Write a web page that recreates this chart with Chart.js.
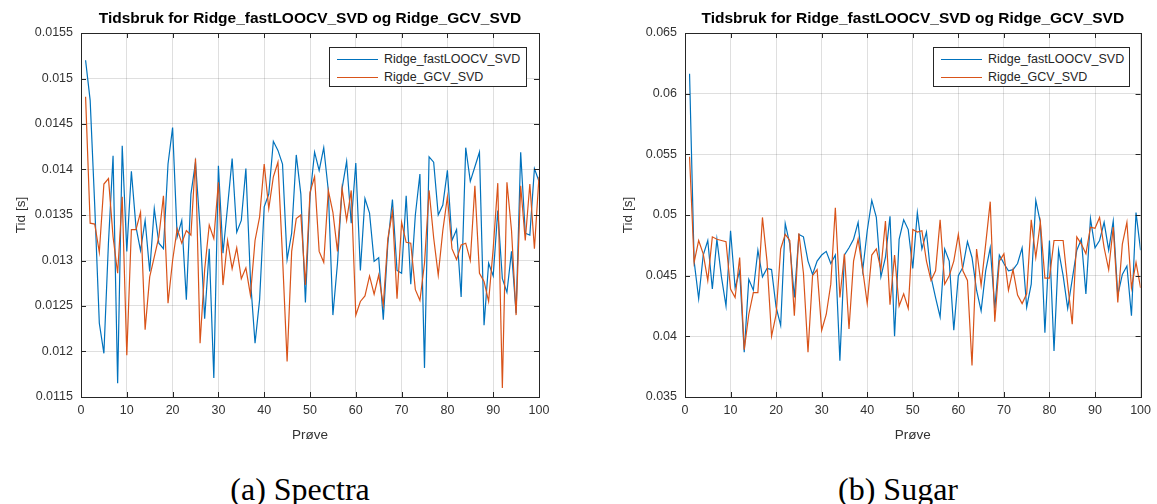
<!DOCTYPE html>
<html>
<head>
<meta charset="utf-8">
<script src="https://cdn.jsdelivr.net/npm/chart.js@4/dist/chart.umd.min.js"></script>
<style>
  body { margin: 0; background: #fff; }
  #page { position: relative; width: 1157px; height: 504px; overflow: hidden; }
  .box { position: absolute; top: 0; height: 455px; }
  .legend { position: absolute; box-sizing: border-box; border: 1px solid #262626; background: #fff;
            font: 12.5px "Liberation Sans", Arial, sans-serif; color: #262626; padding-top: 3px; }
  .legend div { height: 17.5px; line-height: 17.5px; white-space: nowrap; }
  .legend span { display: inline-block; width: 41px; height: 0; vertical-align: middle; margin: 0 6px 0 7px; }
  .caption { position: absolute; top: 471px; line-height: 32px; text-align: center;
             font: 32px "Liberation Serif", "Times New Roman", serif; color: #000; }
</style>
</head>
<body>
<div id="page">
  <div class="box" style="left:0; width:560px;"><canvas id="spectraChart"></canvas></div>
  <div class="box" style="left:590px; width:567px;"><canvas id="sugarChart"></canvas></div>
  <div class="legend" id="spectraLegend" style="left:329px; top:47px; width:198px; height:40px;"></div>
  <div class="legend" id="sugarLegend" style="left:933px; top:47px; width:197px; height:40px;"></div>
  <div class="caption" style="left:0; width:600px;">(a) Spectra</div>
  <div class="caption" style="left:648px; width:500px;">(b) Sugar</div>
</div>
<script>
// sample number on the x axis
const samples = Array.from({ length: 100 }, (_, i) => i + 1);

const titleText = "Tidsbruk for Ridge_fastLOOCV_SVD og Ridge_GCV_SVD";
const seriesNames = ["Ridge_fastLOOCV_SVD", "Rigde_GCV_SVD"];
const xTicks = [0, 10, 20, 30, 40, 50, 60, 70, 80, 90, 100];
const spectraYTicks = [0.0115, 0.012, 0.0125, 0.013, 0.0135, 0.014, 0.0145, 0.015, 0.0155];
const sugarYTicks = [0.035, 0.04, 0.045, 0.05, 0.055, 0.06, 0.065];

// (a) Spectra, time in seconds
const spectraFast = [
  0.01520, 0.01476, 0.01360, 0.01231, 0.01198, 0.01320, 0.01415, 0.01165, 0.01426, 0.01310,
  0.01398, 0.01337, 0.01311, 0.01344, 0.01288, 0.01357, 0.01319, 0.01313, 0.01406, 0.01446,
  0.01326, 0.01344, 0.01257, 0.01373, 0.01408, 0.01335, 0.01236, 0.01313, 0.01171, 0.01404,
  0.01308, 0.01359, 0.01412, 0.01331, 0.01344, 0.01401, 0.01279, 0.01209, 0.01257, 0.01359,
  0.01373, 0.01431, 0.01421, 0.01406, 0.01301, 0.01330, 0.01416, 0.01373, 0.01254, 0.01370,
  0.01419, 0.01399, 0.01424, 0.01377, 0.01240, 0.01297, 0.01379, 0.01409, 0.01341, 0.01407,
  0.01289, 0.01368, 0.01352, 0.01299, 0.01303, 0.01235, 0.01319, 0.01367, 0.01289, 0.01286,
  0.01371, 0.01274, 0.01350, 0.01395, 0.01182, 0.01414, 0.01408, 0.01350, 0.01361, 0.01399,
  0.01322, 0.01334, 0.01260, 0.01424, 0.01387, 0.01403, 0.01419, 0.01229, 0.01297, 0.01283,
  0.01355, 0.01280, 0.01265, 0.01310, 0.01242, 0.01419, 0.01330, 0.01328, 0.01401, 0.01387
];
const spectraGcv = [
  0.01480, 0.01341, 0.01340, 0.01309, 0.01384, 0.01390, 0.01326, 0.01286, 0.01370, 0.01196,
  0.01334, 0.01334, 0.01353, 0.01224, 0.01282, 0.01304, 0.01326, 0.01371, 0.01253, 0.01300,
  0.01335, 0.01319, 0.01333, 0.01328, 0.01412, 0.01209, 0.01290, 0.01339, 0.01324, 0.01386,
  0.01273, 0.01322, 0.01291, 0.01314, 0.01280, 0.01292, 0.01262, 0.01322, 0.01348, 0.01406,
  0.01357, 0.01392, 0.01408, 0.01304, 0.01189, 0.01310, 0.01346, 0.01350, 0.01273, 0.01375,
  0.01392, 0.01310, 0.01298, 0.01377, 0.01353, 0.01310, 0.01379, 0.01344, 0.01377, 0.01240,
  0.01255, 0.01261, 0.01283, 0.01263, 0.01284, 0.01251, 0.01324, 0.01354, 0.01258, 0.01342,
  0.01320, 0.01319, 0.01268, 0.01256, 0.01297, 0.01377, 0.01325, 0.01284, 0.01333, 0.01370,
  0.01313, 0.01301, 0.01317, 0.01319, 0.01300, 0.01382, 0.01286, 0.01277, 0.01255, 0.01313,
  0.01385, 0.01160, 0.01386, 0.01333, 0.01240, 0.01382, 0.01322, 0.01384, 0.01313, 0.01392
];

// (b) Sugar, time in seconds
const sugarFast = [
  0.06165, 0.0462, 0.0431, 0.0467, 0.0479, 0.0439, 0.0480, 0.0449, 0.0425, 0.0487,
  0.0440, 0.0454, 0.0387, 0.0447, 0.0438, 0.0471, 0.0449, 0.0456, 0.0455, 0.0424,
  0.0409, 0.0493, 0.0476, 0.0432, 0.0484, 0.0482, 0.0462, 0.0451, 0.0462, 0.0467,
  0.0470, 0.0460, 0.0467, 0.0380, 0.0467, 0.0473, 0.0480, 0.0494, 0.0454, 0.0487,
  0.0512, 0.0498, 0.0449, 0.0465, 0.0499, 0.0400, 0.0480, 0.0496, 0.0488, 0.0456,
  0.0502, 0.0472, 0.0486, 0.0449, 0.0432, 0.0416, 0.0472, 0.0462, 0.0405, 0.0450,
  0.0457, 0.0478, 0.0465, 0.0438, 0.0421, 0.0454, 0.0473, 0.0423, 0.0467, 0.0460,
  0.0454, 0.0455, 0.0460, 0.0473, 0.0424, 0.0443, 0.0512, 0.0494, 0.0403, 0.0479,
  0.0388, 0.0471, 0.0450, 0.0423, 0.0447, 0.0471, 0.0480, 0.0435, 0.0497, 0.0473,
  0.0479, 0.0494, 0.0471, 0.0495, 0.0434, 0.0451, 0.0458, 0.0417, 0.0502, 0.0471
];
const sugarGcv = [
  0.0548, 0.0461, 0.0479, 0.0468, 0.0446, 0.0482, 0.0480, 0.0479, 0.0478, 0.0439,
  0.0432, 0.0465, 0.0389, 0.0418, 0.0436, 0.0436, 0.0498, 0.0462, 0.0400, 0.0418,
  0.0472, 0.0484, 0.0479, 0.0417, 0.0485, 0.0452, 0.0387, 0.0450, 0.0455, 0.0405,
  0.0418, 0.0443, 0.0506, 0.0432, 0.0468, 0.0406, 0.0462, 0.0480, 0.0455, 0.0427,
  0.0467, 0.0472, 0.0455, 0.0495, 0.0426, 0.0467, 0.0425, 0.0435, 0.0423, 0.0488,
  0.0486, 0.0487, 0.0462, 0.0446, 0.0454, 0.0496, 0.0443, 0.0450, 0.0462, 0.0484,
  0.0454, 0.0446, 0.0376, 0.0472, 0.0442, 0.0476, 0.0511, 0.0412, 0.0462, 0.0468,
  0.0438, 0.0455, 0.0434, 0.0427, 0.0435, 0.0496, 0.0465, 0.0494, 0.0448, 0.0448,
  0.0479, 0.0479, 0.0479, 0.0443, 0.0410, 0.0482, 0.0476, 0.0468, 0.0490, 0.0489,
  0.0498, 0.0473, 0.0455, 0.0490, 0.0428, 0.0476, 0.0494, 0.0440, 0.0461, 0.0440
];

const blue = "#0072BD";
const orange = "#D95319";
const axisColor = "#262626";
const gridColor = "rgba(38,38,38,0.15)";
const fontFamily = '"Liberation Sans", Arial, Helvetica, sans-serif';

// box round the axes with small inward ticks, like matlab
const boxPlugin = {
  id: "box",
  afterDraw(chart) {
    const { ctx, chartArea: a, scales } = chart;
    ctx.save();
    ctx.strokeStyle = axisColor;
    ctx.lineWidth = 1;
    ctx.strokeRect(Math.round(a.left) + 0.5, Math.round(a.top) + 0.5,
                   Math.round(a.right - a.left), Math.round(a.bottom - a.top));
    ctx.beginPath();
    scales.x.ticks.forEach(t => {
      const px = Math.round(scales.x.getPixelForValue(t.value)) + 0.5;
      ctx.moveTo(px, a.bottom); ctx.lineTo(px, a.bottom - 5);
      ctx.moveTo(px, a.top); ctx.lineTo(px, a.top + 5);
    });
    scales.y.ticks.forEach(t => {
      const py = Math.round(scales.y.getPixelForValue(t.value)) + 0.5;
      ctx.moveTo(a.left, py); ctx.lineTo(a.left + 5, py);
      ctx.moveTo(a.right, py); ctx.lineTo(a.right - 5, py);
    });
    ctx.stroke();
    ctx.restore();
  }
};

function toPoints(values) {
  return values.map((v, i) => ({ x: samples[i], y: v }));
}

function makeChart(id, legendId, fast, gcv, yTicks, decimals, yAxisWidth, yTitlePad, rightPad) {
  const chart = new Chart(document.getElementById(id), {
    type: "line",
    data: {
      datasets: [
        { label: seriesNames[0], data: toPoints(fast), borderColor: blue, borderWidth: 1.2, order: 1 },
        { label: seriesNames[1], data: toPoints(gcv), borderColor: orange, borderWidth: 1.2, order: 0 }
      ]
    },
    options: {
      responsive: true,
      maintainAspectRatio: false,
      animation: false,
      layout: { padding: { left: 0, right: rightPad, top: 0, bottom: 0 } },
      elements: { point: { radius: 0 }, line: { tension: 0 } },
      plugins: {
        legend: { display: false },
        tooltip: { enabled: false },
        title: {
          display: true,
          text: titleText,
          fullSize: false,
          color: "#000",
          font: { family: fontFamily, size: 15.5, weight: "bold" },
          padding: { top: 9, bottom: 5.4 }
        }
      },
      scales: {
        x: {
          type: "linear",
          min: xTicks[0],
          max: xTicks[xTicks.length - 1],
          afterBuildTicks: s => { s.ticks = xTicks.map(v => ({ value: v })); },
          afterFit: s => { s.height = 58; },
          grid: { color: gridColor, drawTicks: false },
          border: { color: axisColor },
          ticks: { color: "#333", padding: 6, font: { family: fontFamily, size: 12.5 } },
          title: { display: true, text: "Prøve", color: "#333", font: { family: fontFamily, size: 13.5 },
                   padding: { top: 0, bottom: 12 } }
        },
        y: {
          min: yTicks[0],
          max: yTicks[yTicks.length - 1],
          afterBuildTicks: s => { s.ticks = yTicks.map(v => ({ value: v })); },
          afterFit: s => { s.width = yAxisWidth; },
          grid: { color: gridColor, drawTicks: false },
          border: { color: axisColor },
          ticks: {
            color: "#333", padding: 8, font: { family: fontFamily, size: 12.5 },
            callback: v => String(Number(v.toFixed(decimals)))
          },
          title: { display: true, text: "Tid [s]", color: "#333", font: { family: fontFamily, size: 13.5 },
                   padding: { top: yTitlePad, bottom: 0 } }
        }
      }
    },
    plugins: [boxPlugin]
  });

  // legend inside the axes, top right
  const legend = document.getElementById(legendId);
  chart.data.datasets.forEach(ds => {
    legend.innerHTML += '<div><span style="border-top:1px solid ' + ds.borderColor + '"></span>' + ds.label + '</div>';
  });
  return chart;
}

const spectraChart = makeChart("spectraChart", "spectraLegend", spectraFast, spectraGcv, spectraYTicks, 4, 81, 13, 21);
const sugarChart = makeChart("sugarChart", "sugarLegend", sugarFast, sugarGcv, sugarYTicks, 3, 95, 30, 13);
</script>
</body>
</html>
